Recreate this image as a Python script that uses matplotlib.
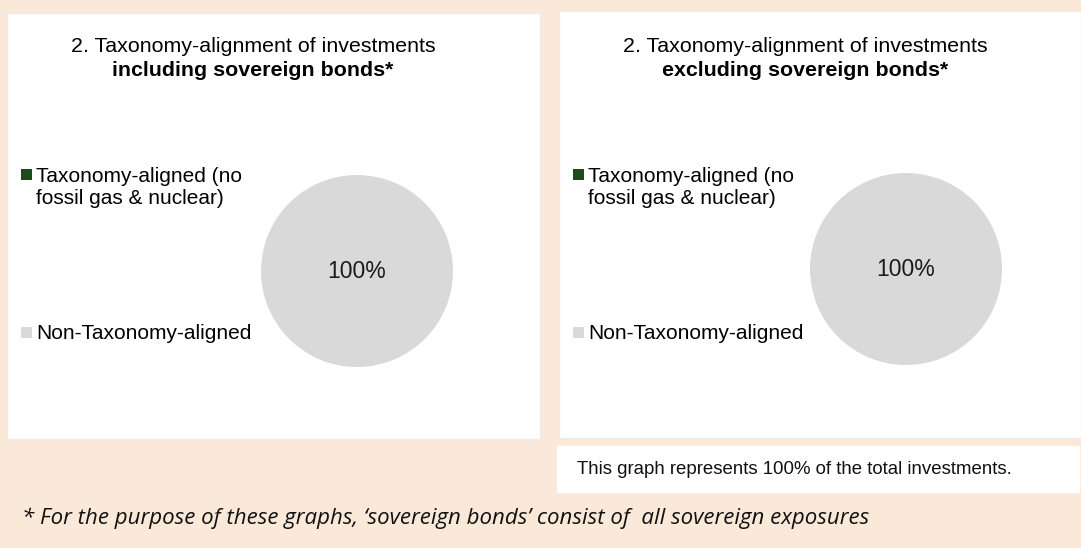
import matplotlib.pyplot as plt
from matplotlib.patches import Rectangle
from matplotlib.legend_handler import HandlerPatch

# Taxonomy alignment shares (%)
categories = ['Taxonomy-aligned (no\nfossil gas & nuclear)', 'Non-Taxonomy-aligned']
incl_sovereign = [0, 100]
excl_sovereign = [0, 100]
titles = [('2. Taxonomy-alignment of investments', 'including sovereign bonds*'),
          ('2. Taxonomy-alignment of investments', 'excluding sovereign bonds*')]
colors = ['#1E4B1C', '#D9D9D9']
note = 'This graph represents 100% of the total investments.'
footnote = ('* For the purpose of these graphs, \u2018sovereign bonds\u2019 '
            'consist of  all sovereign exposures')

plt.rcParams['font.family'] = ['Liberation Sans', 'DejaVu Sans']

W, H = 1081, 548
fig = plt.figure(figsize=(W / 100, H / 100), dpi=100, facecolor='#FAE8D8')


def px(x, y):
    # pixel coords (top-left origin) -> figure fraction
    return x / W, 1 - y / H


def box(x0, y0, x1, y1, edge='#ECECEC'):
    fx, fy = px(x0, y1)
    fig.patches.append(Rectangle((fx, fy), (x1 - x0) / W, (y1 - y0) / H,
                                 transform=fig.transFigure, facecolor='white',
                                 edgecolor=edge, linewidth=1, zorder=-1))


def square(legend, orig_handle, xdescent, ydescent, width, height, fontsize):
    # small square level with the first text line
    top = height - ydescent
    return Rectangle((-xdescent, top - 0.11 * fontsize - width), width, width)


# white panels
box(7, 13, 540, 439)
box(559, 11, 1081, 438)
box(557, 446, 1079, 492, edge='white')

panels = [
    dict(values=incl_sovereign, title=titles[0], cx=357, cy=271, tx=253, lx=21),
    dict(values=excl_sovereign, title=titles[1], cx=906, cy=269, tx=805, lx=573),
]

r = 96
for p in panels:
    x0, y1 = px(p['cx'] - r, p['cy'] + r)
    ax = fig.add_axes([x0, y1, 2 * r / W, 2 * r / H])
    wedges, _, autotexts = ax.pie(
        p['values'], colors=colors, startangle=90, counterclock=False,
        autopct=lambda v: f'{v:.0f}%' if v > 0 else '',
        pctdistance=0, wedgeprops=dict(linewidth=0),
        textprops=dict(fontsize=16.5, color='#1A1A1A'))
    ax.set_xlim(-1, 1)
    ax.set_ylim(-1, 1)

    tx, ty = px(p['tx'], 46)
    fig.text(tx, ty, p['title'][0], ha='center', va='center', fontsize=15.4)
    tx, ty = px(p['tx'], 70)
    fig.text(tx, ty, p['title'][1], ha='center', va='center', fontsize=15.4,
             fontweight='bold')

    lx, ly = px(p['lx'], 167)
    leg = fig.legend(wedges, categories, loc='upper left', bbox_to_anchor=(lx, ly),
                     bbox_transform=fig.transFigure, frameon=False, fontsize=15,
                     handlelength=0.53, handleheight=0.9, handletextpad=0.2,
                     labelspacing=5.59, borderpad=0, borderaxespad=0,
                     handler_map={type(wedges[0]): HandlerPatch(patch_func=square)})
    for col in leg._legend_handle_box.get_children():
        for row in col.get_children():
            row.align = 'top'

nx, ny = px(577, 469)
fig.text(nx, ny, note, ha='left', va='center', fontsize=13.4, color='#111111')

fx, fy = px(22, 518)
fig.text(fx, fy, footnote, ha='left', va='center', fontsize=16,
         fontfamily='Open Sans', fontstyle='italic', color='#111111')

fig.savefig('out.png', dpi=100, facecolor=fig.get_facecolor())
